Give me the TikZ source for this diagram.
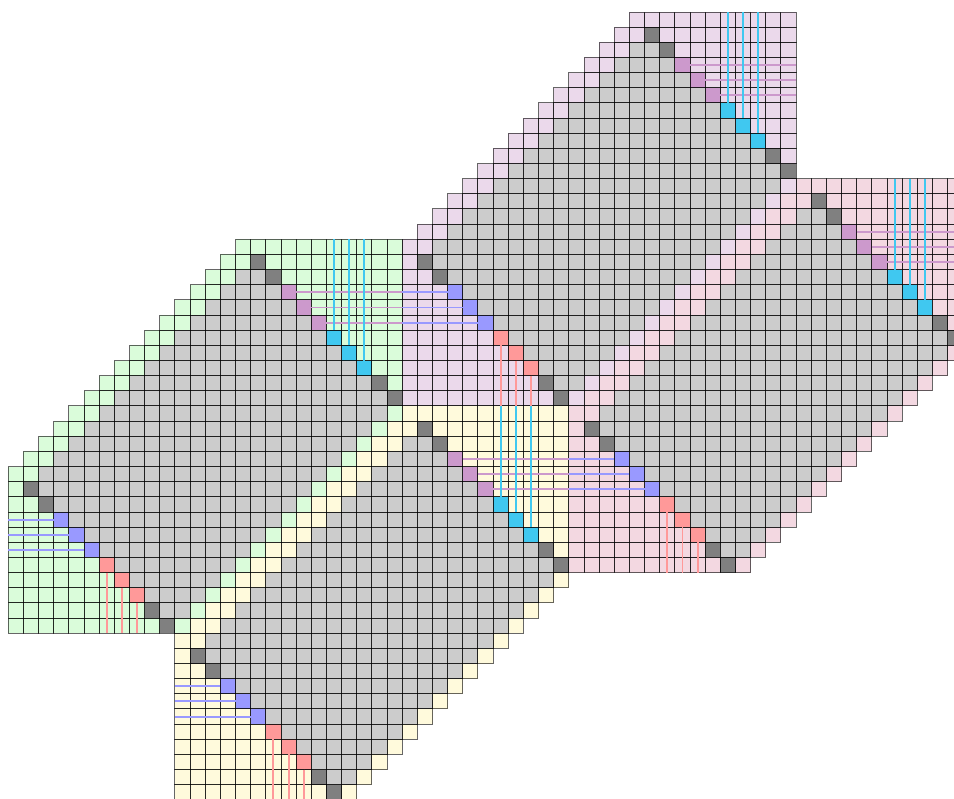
\documentclass[tikz,border=0pt]{standalone}

\definecolor{greenblock}{RGB}{218,252,218}
\definecolor{yellowblock}{RGB}{255,250,220}
\definecolor{purpleblock}{RGB}{235,217,235}
\definecolor{pinkblock}{RGB}{243,216,225}
\definecolor{cellgray}{RGB}{204,204,204}
\definecolor{celldark}{RGB}{128,128,128}
\definecolor{cellpurple}{RGB}{204,153,204}
\definecolor{cellcyan}{RGB}{64,200,240}
\definecolor{cellblue}{RGB}{153,153,255}
\definecolor{cellred}{RGB}{255,153,153}

% #1 = left x, #2 = top y, #3 = light colour, #4 = style of the pass
\newcommand{\bandblock}[4]{%
  \foreach \row in {0,...,25}{%
    \foreach \col in {0,...,25}{%
      \pgfmathtruncatemacro{\sm}{\col+\row}%
      \pgfmathtruncatemacro{\df}{\col-\row}%
      \def\cellcol{cellgray}%
      \ifnum\sm<17 \def\cellcol{#3}\fi
      \ifnum\sm=36 \def\cellcol{#3}\fi
      \ifnum\df>15 \def\cellcol{#3}\fi
      \ifnum\df<-15 \def\cellcol{#3}\fi
      \ifnum\sm>15
        \ifnum\df=15
          \ifcase\numexpr\row\relax
          \or\def\cellcol{celldark}\or\def\cellcol{celldark}%
          \or\def\cellcol{cellpurple}\or\def\cellcol{cellpurple}\or\def\cellcol{cellpurple}%
          \or\def\cellcol{cellcyan}\or\def\cellcol{cellcyan}\or\def\cellcol{cellcyan}%
          \or\def\cellcol{celldark}\or\def\cellcol{celldark}\fi
        \fi
        \ifnum\df=-15
          \ifcase\numexpr\row-15\relax
          \or\def\cellcol{celldark}\or\def\cellcol{celldark}%
          \or\def\cellcol{cellblue}\or\def\cellcol{cellblue}\or\def\cellcol{cellblue}%
          \or\def\cellcol{cellred}\or\def\cellcol{cellred}\or\def\cellcol{cellred}%
          \or\def\cellcol{celldark}\or\def\cellcol{celldark}\fi
        \fi
      \fi
      \ifnum\sm>14 \ifnum\sm<37
        \path[#4] ({#1+\col},{#2-\row}) rectangle ++(1,-1);
      \fi\fi
    }%
  }%
}

\newcommand{\bandlines}[2]{%
  \foreach \k in {3,4,5}
    \draw[purpleline] ({#1+\k+16},{#2-\k-0.5}) -- ({#1+26},{#2-\k-0.5});
  \foreach \k in {6,7,8}
    \draw[cyanline] ({#1+\k+15.5},{#2-\k}) -- ({#1+\k+15.5},{#2});
  \foreach \k in {18,19,20}
    \draw[blueline] ({#1},{#2-\k-0.5}) -- ({#1+\k-15},{#2-\k-0.5});
  \foreach \k in {21,22,23}
    \draw[redline] ({#1+\k-14.5},{#2-\k-1}) -- ({#1+\k-14.5},{#2-26});
}

\begin{document}
\begin{tikzpicture}[x=0.4cm, y=0.4cm]

\tikzset{cellfill/.style={fill=\cellcol}}
\tikzset{cellgrid/.style={draw=black, draw opacity=0.6, line width=0.75pt}}
\tikzset{purpleline/.style={draw=cellpurple, line width=1.45pt}}
\tikzset{cyanline/.style={draw=cellcyan, line width=1.45pt}}
\tikzset{blueline/.style={draw=cellblue, line width=1.45pt}}
\tikzset{redline/.style={draw=cellred, line width=1.45pt}}

\useasboundingbox (-0.548,-36.94) rectangle (62.42,15.795);
\clip (-0.548,-36.94) rectangle (62.42,15.795);

\bandblock{0}{0}{greenblock}{cellfill}
\bandblock{11}{-11}{yellowblock}{cellfill}
\bandblock{26}{15}{purpleblock}{cellfill}
\bandblock{37}{4}{pinkblock}{cellfill}

\bandblock{0}{0}{greenblock}{cellgrid}
\bandblock{11}{-11}{yellowblock}{cellgrid}
\bandblock{26}{15}{purpleblock}{cellgrid}
\bandblock{37}{4}{pinkblock}{cellgrid}

\bandlines{0}{0}
\bandlines{11}{-11}
\bandlines{26}{15}
\bandlines{37}{4}

\end{tikzpicture}
\end{document}
